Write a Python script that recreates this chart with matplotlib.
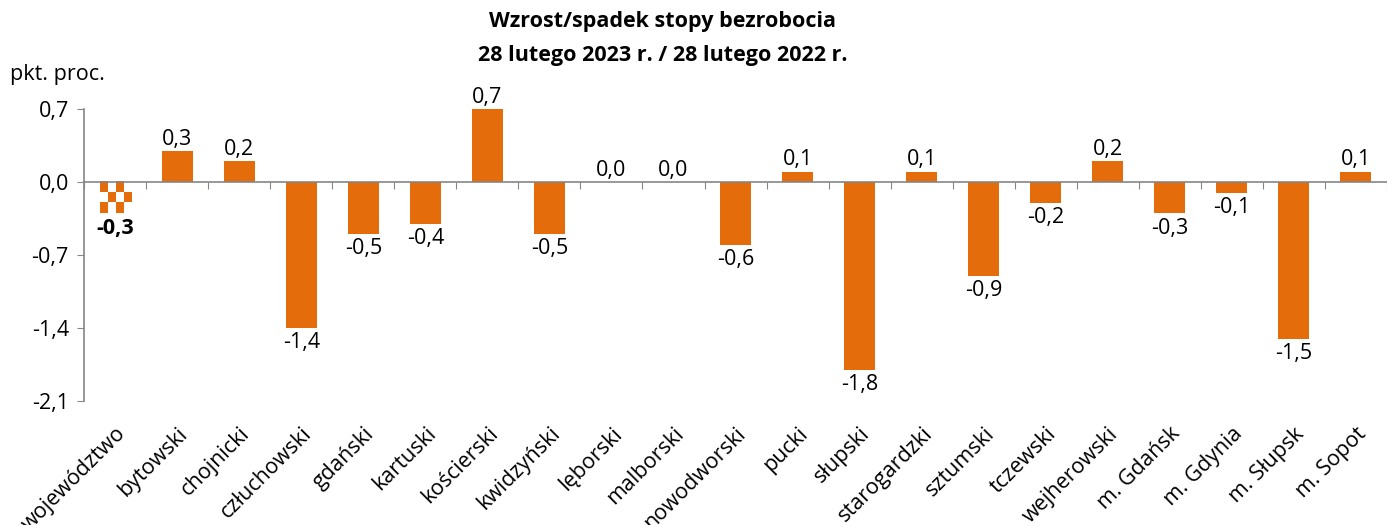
import numpy as np
import matplotlib.pyplot as plt
from matplotlib.colors import ListedColormap

categories = ['województwo', 'bytowski', 'chojnicki', 'człuchowski', 'gdański',
              'kartuski', 'kościerski', 'kwidzyński', 'lęborski', 'malborski',
              'nowodworski', 'pucki', 'słupski', 'starogardzki', 'sztumski',
              'tczewski', 'wejherowski', 'm. Gdańsk', 'm. Gdynia', 'm. Słupsk',
              'm. Sopot']
values = [-0.3, 0.3, 0.2, -1.4, -0.5, -0.4, 0.7, -0.5, 0.0, 0.0, -0.6,
          0.1, -1.8, 0.1, -0.9, -0.2, 0.2, -0.3, -0.1, -1.5, 0.1]
yticks = [0.7, 0.0, -0.7, -1.4, -2.1]


def pl(v):
    return f'{v:.1f}'.replace('.', ',')


plt.rcParams['font.family'] = ['Open Sans', 'DejaVu Sans']
orange = '#E46C0A'
gray = '#868686'
fs = 15.5

fig = plt.figure(figsize=(13.87, 5.25), dpi=100)
ax = fig.add_axes([0.0606, 0.236, 0.9394, 0.556])

x = np.arange(len(categories))
colors = ['white'] + [orange] * (len(categories) - 1)
bars = ax.bar(x, values, width=0.5, color=colors, zorder=2)

# szachownica na pierwszym słupku (województwo)
b = bars[0]
y0, y1 = sorted([b.get_y(), b.get_y() + b.get_height()])
checker = np.indices((3, 4)).sum(axis=0) % 2
ax.imshow(checker, cmap=ListedColormap([orange, 'white']),
          extent=(b.get_x(), b.get_x() + b.get_width(), y0, y1),
          aspect='auto', interpolation='nearest', clip_path=b, zorder=2)

for i, v in enumerate(values):
    up = v >= 0
    ax.annotate(pl(v), (x[i], v), xytext=(0, 1 if up else -3),
                textcoords='offset points', ha='center',
                va='bottom' if up else 'top', fontsize=fs,
                fontweight='bold' if i == 0 else 'normal')

ax.set_xlim(-0.5, len(categories) - 0.5)
ax.set_ylim(-2.1, 0.7)
ax.set_yticks(yticks, [pl(t) for t in yticks])
ax.tick_params(axis='y', length=5, color=gray, labelsize=fs, pad=6)

for s in ['top', 'right']:
    ax.spines[s].set_visible(False)
ax.spines['left'].set_color(gray)
ax.spines['bottom'].set_color(gray)
ax.spines['left'].set_linewidth(1.2)
ax.spines['bottom'].set_linewidth(1.2)
ax.spines['bottom'].set_position(('data', 0))
ax.set_xticks(np.arange(len(categories) + 1) - 0.5)
ax.tick_params(axis='x', length=5, color=gray, labelbottom=False)

sec = ax.secondary_xaxis('bottom')
sec.set_xticks(x, categories, rotation=45, ha='right', rotation_mode='anchor')
sec.tick_params(length=0, pad=16, labelsize=fs)
sec.spines['bottom'].set_visible(False)

fig.text(10 / 1387, 1 - 75 / 525, 'pkt. proc.', fontsize=fs, va='center')
fig.text(0.478, 1 - 21 / 525, 'Wzrost/spadek stopy bezrobocia',
         fontsize=fs, fontweight='bold', ha='center', va='center')
fig.text(0.478, 1 - 56 / 525, '28 lutego 2023 r. / 28 lutego 2022 r.',
         fontsize=fs, fontweight='bold', ha='center', va='center')

fig.savefig('out.png', dpi=100)
